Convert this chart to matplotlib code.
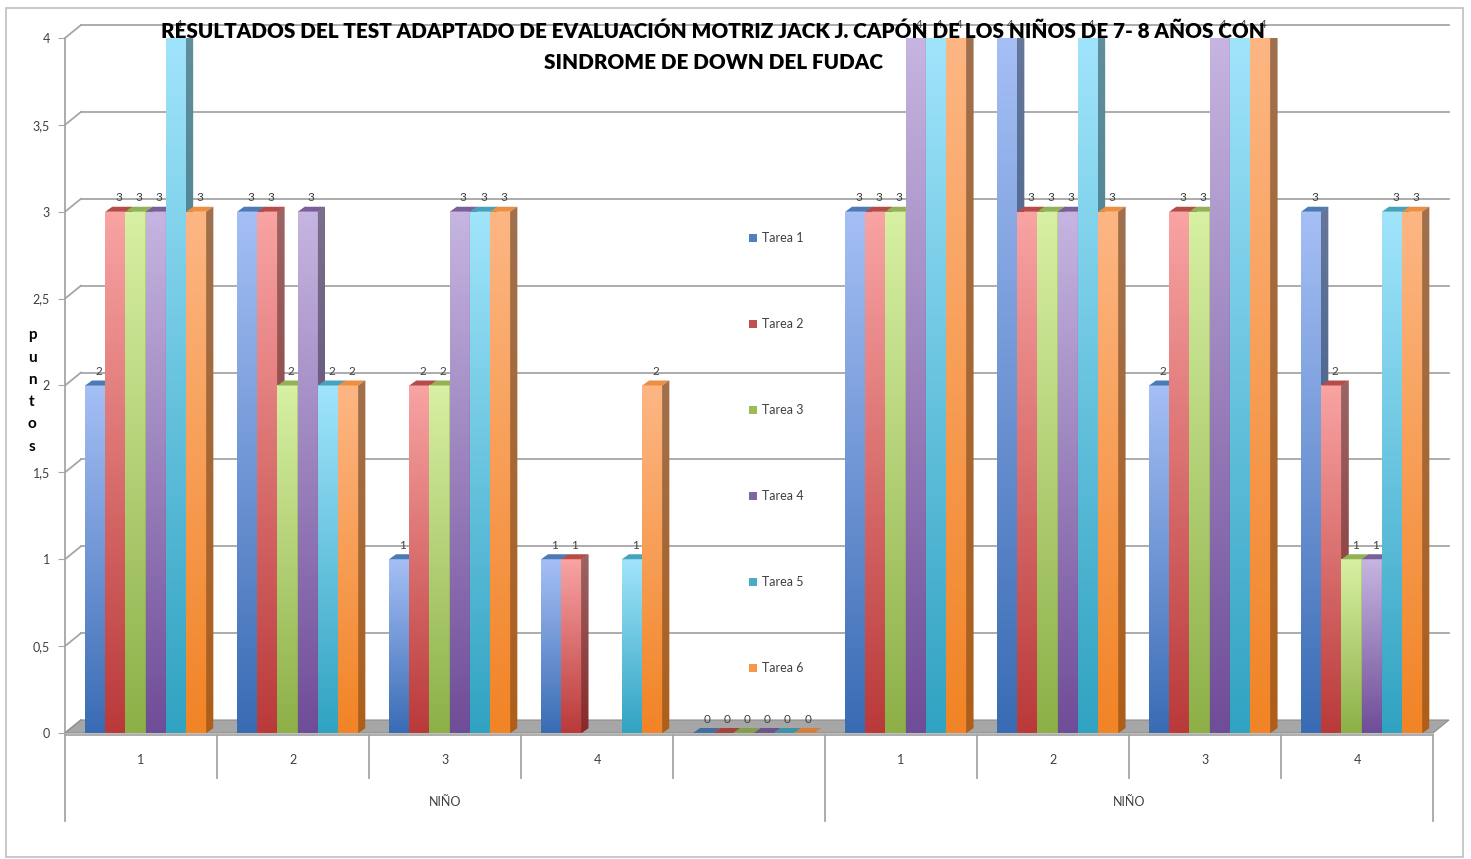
import numpy as np
import matplotlib
matplotlib.use('Agg')
import matplotlib.pyplot as plt
from matplotlib.patches import Polygon, Rectangle, Patch
from matplotlib.colors import to_rgb

# Datos
categorias = ['1', '2', '3', '4', '', '1', '2', '3', '4']
grupos = ['NIÑO', 'NIÑO']
series = ['Tarea 1', 'Tarea 2', 'Tarea 3', 'Tarea 4', 'Tarea 5', 'Tarea 6']
tarea1 = [2, 3, 1, 1, 0, 3, 4, 2, 3]
tarea2 = [3, 3, 2, 1, 0, 3, 3, 3, 2]
tarea3 = [3, 2, 2, np.nan, 0, 3, 3, 3, 1]
tarea4 = [3, 3, 3, np.nan, 0, 4, 3, 4, 1]
tarea5 = [4, 2, 3, 1, 0, 4, 4, 4, 3]
tarea6 = [3, 2, 3, 2, 0, 4, 3, 4, 3]
valores = [tarea1, tarea2, tarea3, tarea4, tarea5, tarea6]
yticks = [0, 0.5, 1, 1.5, 2, 2.5, 3, 3.5, 4]

titulo = ('RESULTADOS DEL TEST ADAPTADO DE EVALUACIÓN MOTRIZ JACK J. CAPÓN DE LOS NIÑOS DE 7- 8 AÑOS CON\n'
          'SINDROME DE DOWN DEL FUDAC')

# colores (claro arriba, oscuro abajo)
claros = ['#A5BFF5', '#F9A3A3', '#D7F0A3', '#C5B5E0', '#A0E4FB', '#FDB683']
oscuros = ['#3A6CB4', '#BA3A3A', '#8DB048', '#6F4D98', '#31A3C2', '#F18426']
leyenda = ['#4F81BD', '#C0504D', '#9BBB59', '#8064A2', '#4BACC6', '#F79646']

plt.rcParams['font.family'] = ['Lato', 'DejaVu Sans']

W, H = 1471, 859
fig = plt.figure(figsize=(W / 100, H / 100), dpi=100)
ax = fig.add_axes([65 / W, (H - 733) / H, 1368 / W, 695 / H])
ax.set_xlim(-0.5, 8.5)
ax.set_ylim(0, 4)

pxx = 1 / 152
pxy = 4 / 695
dx, dy = 7 * pxx, 5 * pxy       # profundidad de las barras
wdx, wdy = 16 * pxx, 13 * pxy   # profundidad de la pared
gris = '#A6A6A6'


def gradiente(patch, c_top, c_bot, x0, x1, y0, y1, z):
    a = np.array(to_rgb(c_top))
    b = np.array(to_rgb(c_bot))
    t = np.linspace(0, 1, 64)[:, None]
    img = (a * (1 - t) + b * t)[:, None, :]
    im = ax.imshow(img, extent=(x0, x1, y0, y1), origin='upper', aspect='auto',
                   interpolation='bilinear', zorder=z)
    im.set_clip_path(patch)


def oscurecer(c, f):
    return tuple(np.array(to_rgb(c)) * f)


# suelo y lineas de division
suelo = Polygon([(-0.5, 0), (8.5, 0), (8.5 + wdx, wdy), (-0.5 + wdx, wdy)],
                facecolor=gris, edgecolor='#8C8C8C', lw=0.8, zorder=1, clip_on=False)
ax.add_patch(suelo)
for v in yticks[1:]:
    ax.plot([-0.5 + wdx, 8.5 + wdx], [v + wdy, v + wdy], color=gris, lw=1.3, zorder=0.5, clip_on=False)
    ax.plot([-0.5, -0.5 + wdx], [v, v + wdy], color=gris, lw=1.3, zorder=0.5, clip_on=False)
ax.plot([-0.5, -0.5 + wdx], [0, wdy], color=gris, lw=1.3, zorder=0.5, clip_on=False)

# barras
w = 0.133
off = -0.368
x = np.arange(len(categorias))
for j, vals in enumerate(valores):
    xs = x + off + j * w
    bars = ax.bar(xs, np.nan_to_num(vals), width=w, align='edge', color='none',
                  edgecolor='none', zorder=2 + j)
    for k, (b, v) in enumerate(zip(bars, vals)):
        if np.isnan(v):
            continue
        x0 = xs[k]
        x1 = x0 + w
        z = 2 + j
        if v > 0:
            b.set_facecolor(claros[j])
            gradiente(b, claros[j], oscuros[j], x0, x1, 0, v, z)
            lado = Polygon([(x1, 0), (x1 + dx, dy), (x1 + dx, v + dy), (x1, v)],
                           facecolor=oscurecer(oscuros[j], 0.8), edgecolor='none', zorder=z)
            ax.add_patch(lado)
            gradiente(lado, oscurecer(claros[j], 0.62), oscurecer(oscuros[j], 0.72),
                      x1, x1 + dx, 0, v + dy, z)
        techo = Polygon([(x0, v), (x0 + dx, v + dy), (x1 + dx, v + dy), (x1, v)],
                        facecolor=oscurecer(leyenda[j], 0.95 if v > 0 else 0.85),
                        edgecolor='none', zorder=z + 0.01)
        ax.add_patch(techo)
        ax.annotate('%d' % v, (x0 + w / 2 + dx / 2, v), xytext=(0, 6), textcoords='offset points',
                    ha='center', va='bottom', fontsize=8.5, color='#404040', zorder=20)

# eje y
ax.set_yticks(yticks)
ax.set_yticklabels([('%g' % t).replace('.', ',') for t in yticks], fontsize=9, color='#404040')
ax.tick_params(axis='y', length=5, color=gris, pad=6)
ax.set_xticks([])
for s in ['top', 'right', 'bottom']:
    ax.spines[s].set_visible(False)
ax.spines['left'].set_color(gris)
ax.spines['left'].set_linewidth(1.3)

# eje x de varios niveles
ax.plot([-0.5, 8.5], [-0.01, -0.01], color=gris, lw=1.3, clip_on=False)
ax.plot([-0.5, -0.5], [0, -0.505], color=gris, lw=1.3, clip_on=False)
for b in [0.5, 1.5, 2.5, 3.5, 5.5, 6.5, 7.5]:
    ax.plot([b, b], [-0.01, -0.26], color=gris, lw=1.3, clip_on=False)
for b in [4.5, 8.5]:
    ax.plot([b, b], [-0.01, -0.505], color=gris, lw=1.3, clip_on=False)
for i, c in enumerate(categorias):
    ax.text(i, -0.155, c, ha='center', va='center', fontsize=9, color='#404040')
for g, c in zip(grupos, [2.0, 6.5]):
    ax.text(c, -0.4, g, ha='center', va='center', fontsize=9, color='#404040')

# leyenda
handles = [Patch(facecolor=c, edgecolor='none') for c in leyenda]
fig.legend(handles, series, loc='upper left', bbox_to_anchor=(738 / W, 1 - 221 / H),
           frameon=False, fontsize=9, labelspacing=5.92, handlelength=0.65, handleheight=0.65,
           handletextpad=0.35, labelcolor='#404040')

# titulo y etiqueta del eje
t = fig.text(713 / W, 1 - 47 / H, titulo, ha='center', va='center', fontsize=17,
             fontweight='heavy', color='black', linespacing=1.75, zorder=30)
fig.canvas.draw()
ancho = t.get_window_extent().width
t.set_fontsize(17 * 1098 / ancho)
fig.text(32 / W, 1 - 391 / H, 'p\nu\nn\nt\no\ns', ha='center', va='center', fontsize=11,
         fontweight='bold', color='black', linespacing=1.75)

# borde del grafico
fig.patches.append(Rectangle((6 / W, 1 - 857 / H), 1457 / W, 849 / H, transform=fig.transFigure,
                             facecolor='none', edgecolor='#BFBFBF', lw=1.2))

fig.savefig('out.png', dpi=100)
